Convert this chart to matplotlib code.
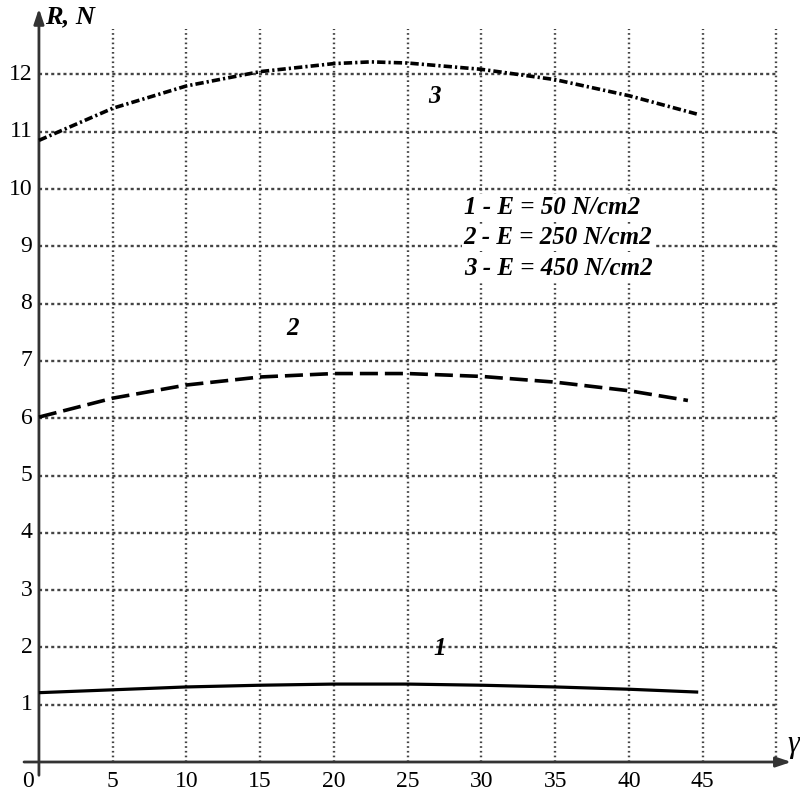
import matplotlib.pyplot as plt

# Values
x1 = [0, 5, 10, 15, 20, 25, 30, 35, 40, 44.7]
r1 = [1.21, 1.26, 1.31, 1.34, 1.36, 1.36, 1.34, 1.31, 1.27, 1.22]

x2 = [0, 5, 10, 15, 20, 25, 30, 35, 40, 44.0]
r2 = [6.02, 6.35, 6.58, 6.72, 6.78, 6.78, 6.73, 6.63, 6.48, 6.31]

x3 = [0, 5, 10, 15, 20, 22.5, 25, 30, 35, 40, 44.6]
r3 = [10.85, 11.41, 11.80, 12.05, 12.19, 12.22, 12.20, 12.09, 11.91, 11.63, 11.31]

x_ticks = [5, 10, 15, 20, 25, 30, 35, 40, 45]
y_ticks = [1, 2, 3, 4, 5, 6, 7, 8, 9, 10, 11, 12]
legend_lines = ['1 - E = 50 N/cm2', '2 - E = 250 N/cm2', '3 - E = 450 N/cm2']

plt.rcParams['lines.scale_dashes'] = False
serif = 'Liberation Serif'

fig = plt.figure(figsize=(8, 7.95), dpi=100)
ax = fig.add_axes([0, 0, 1, 1])
ax.set_xlim(-2.64, 51.6)
ax.set_ylim(-0.576, 13.3)
ax.axis('off')

grid_col = '#444444'
# grid: vertical dotted, horizontal short dashes
for gx in x_ticks + [50]:
    ax.plot([gx, gx], [0, 12.8], color=grid_col, lw=1.7, linestyle=(0, (1.2, 2.2)), zorder=1)
for gy in y_ticks:
    ax.plot([0, 50], [gy, gy], color=grid_col, lw=1.7, linestyle=(0, (2.2, 2.2)), zorder=1)

# axes with arrows
ax.annotate('', xy=(51.2, 0), xytext=(-1.2, 0),
            arrowprops=dict(arrowstyle='-|>,head_length=0.9,head_width=0.3', color='#333333', lw=2))
ax.annotate('', xy=(0, 13.2), xytext=(0, -0.28),
            arrowprops=dict(arrowstyle='-|>,head_length=0.9,head_width=0.3', color='#333333', lw=2))

# curves
ax.plot(x1, r1, color='black', lw=2.3, solid_capstyle='butt', zorder=3)
ax.plot(x2, r2, color='black', lw=2.6, linestyle=(0, (13, 5)), zorder=3)
ax.plot(x3, r3, color='black', lw=2.6, linestyle=(0, (6, 2.2, 1.6, 2.2)), zorder=3)

# tick labels
for tx in x_ticks:
    ax.text(tx, -0.15, str(tx), ha='center', va='top', fontsize=17, family=serif)
ax.text(-0.75, -0.15, '0', ha='center', va='top', fontsize=17, family=serif)
for ty in y_ticks:
    ax.text(-0.45, ty, str(ty), ha='right', va='center', fontsize=17, family=serif)

# axis names
ax.text(0.4, 13.0, 'R, N', ha='left', va='center', fontsize=19, family=serif,
        fontweight='bold', fontstyle='italic')
ax.text(51.55, 0.3, 'γ', ha='right', va='center', fontsize=22, family=serif, fontstyle='italic')

# curve numbers
ax.text(26.8, 11.62, '3', ha='center', va='center', fontsize=18, family=serif,
        fontweight='bold', fontstyle='italic')
ax.text(17.2, 7.56, '2', ha='center', va='center', fontsize=18, family=serif,
        fontweight='bold', fontstyle='italic')
ax.text(27.2, 1.98, '1', ha='center', va='center', fontsize=18, family=serif,
        fontweight='bold', fontstyle='italic')

# legend text on a white patch that hides the grid
for i, s in enumerate(legend_lines):
    ax.text(28.8, 9.68 - i * 0.53, s, ha='left', va='center', fontsize=18, family=serif,
            fontweight='bold', fontstyle='italic', zorder=4,
            bbox=dict(facecolor='white', edgecolor='none', pad=1.5))

fig.savefig('out.png', dpi=100)
